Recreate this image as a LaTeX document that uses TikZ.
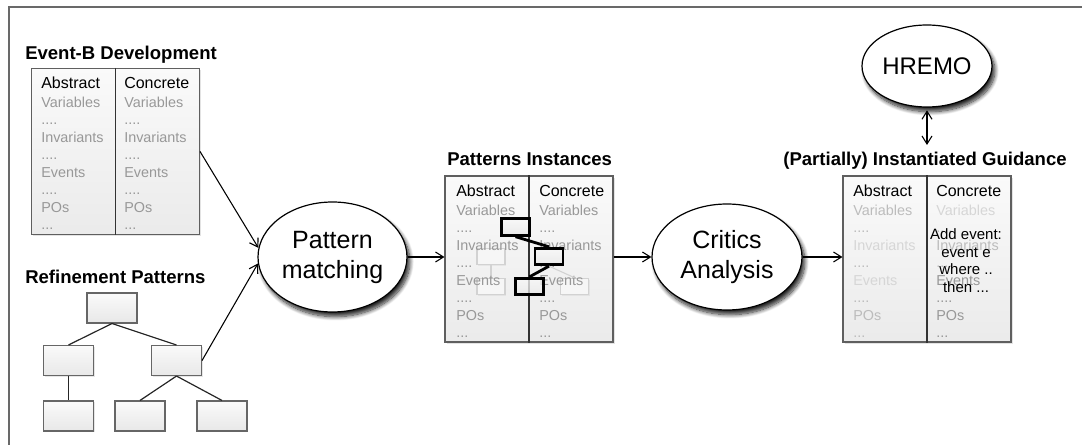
\documentclass[tikz,border=0pt]{standalone}
\usepackage{fontspec}
\setmainfont{Liberation Sans}
\usetikzlibrary{arrows.meta,shapes.geometric,shadows,shadows.blur}

\definecolor{itemgray}{RGB}{152,152,152}
\definecolor{faintgray}{RGB}{214,214,214}
\definecolor{midgray}{RGB}{188,188,188}
\definecolor{framegray}{RGB}{105,105,105}
\definecolor{boxedge}{RGB}{95,95,95}

\newcommand\fs[2]{\fontsize{#1}{#2}\selectfont}
\def\dd{....}
\def\ddd{...}

% one column of a development box: prefix, x, top y, header, items
\newcommand\devcolumn[5]{%
  \node[head] (#1h) at (#2,#3+21) {#4};
  \foreach \t/\c [count=\i from 0] in {#5} {
    \node[item,text=\c] (#1\i) at (#2,#3+39.5+17.5*\i) {\t};
  }%
}

\begin{document}
\begin{tikzpicture}[x=0.75pt,y=-0.75pt,
  title/.style={font=\fs{13.9pt}{16pt}\bfseries, inner sep=0, anchor=base west},
  head/.style={font=\fs{12pt}{14pt}, inner sep=0, anchor=base west},
  item/.style={font=\fs{10.8pt}{12pt}, inner sep=0, anchor=base west, text=itemgray},
  devbox/.style={draw=boxedge, line width=0.8pt, top color=gray!4, bottom color=gray!16,
    minimum width=126pt, minimum height=124.5pt, inner sep=0,
    drop shadow={shadow xshift=1.2pt, shadow yshift=-1.2pt, opacity=0.22}},
  divider/.style={draw=black!80, line width=0.8pt},
  treebox/.style={draw=gray!80!black, line width=0.8pt, top color=gray!4, bottom color=gray!18,
    minimum width=37.5pt, minimum height=22.5pt, inner sep=0,
    drop shadow={shadow xshift=1pt, shadow yshift=-1pt, opacity=0.2}},
  faded/.style={draw=gray!35, line width=0.8pt, fill=gray!7,
    minimum width=21pt, minimum height=12.4pt, inner sep=0,
    drop shadow={shadow xshift=1pt, shadow yshift=-1pt, opacity=0.1}},
  picked/.style={draw=black, line width=2.1pt, top color=gray!5, bottom color=gray!18,
    fill opacity=0.75, minimum width=21pt, minimum height=12.4pt, inner sep=0},
  pickline/.style={draw=black, line width=2.1pt},
  fadeline/.style={draw=gray!35, line width=0.8pt},
  oval/.style={ellipse, draw=black, line width=0.9pt, fill=white, inner sep=0, align=center,
    font=\fs{18.75pt}{22.5pt},
    blur shadow={shadow xshift=2.2pt, shadow yshift=-3.5pt, shadow blur radius=3pt,
      shadow blur steps=10, shadow opacity=85}},
  edge/.style={draw=black!85, line width=0.9pt},
  conn/.style={draw=black, line width=0.8pt, -{Straight Barb[length=6pt,width=7.5pt]}},
  biconn/.style={draw=black, line width=0.8pt,
    {Straight Barb[length=6pt,width=7.5pt]}-{Straight Barb[length=6pt,width=7.5pt]}}
]
\useasboundingbox (0,0) rectangle (1082,445);

% outer frame
\draw[framegray, line width=1.2pt] (9,445) -- (9,7) -- (1082,7);

% ---------------- Event-B development ----------------
\node[title] (tevb) at (25,60) {Event-B Development};
\node[devbox] (evb) at (115.5,151.5) {};
\draw[divider] (evb.north) -- (evb.south);
\devcolumn{ea}{41}{68}{Abstract}{Variables/itemgray,\dd/itemgray,Invariants/itemgray,\dd/itemgray,Events/itemgray,\dd/itemgray,POs/itemgray,\ddd/itemgray}
\devcolumn{ec}{124}{68}{Concrete}{Variables/itemgray,\dd/itemgray,Invariants/itemgray,\dd/itemgray,Events/itemgray,\dd/itemgray,POs/itemgray,\ddd/itemgray}

% ---------------- refinement pattern tree ----------------
\node[title] (tref) at (25,284) {Refinement Patterns};
\node[treebox] (t1) at (112,308) {};
\node[treebox] (t2) at (68.5,360.5) {};
\node[treebox] (t3) at (176.5,360.5) {};
\node[treebox] (t4) at (68.5,416) {};
\node[treebox] (t5) at (140,416) {};
\node[treebox] (t6) at (222,416) {};
\draw[edge] (t1.south) -- (t2.north);
\draw[edge] (t1.south) -- (t3.north);
\draw[edge] (t2.south) -- (t4.north);
\draw[edge] (t3.south) -- (t5.north);
\draw[edge] (t3.south) -- (t6.north);

% ---------------- pattern matching ----------------
\node[oval, minimum width=111.75pt, minimum height=82.5pt] (pm) at (332.5,257) {Pattern\\matching};
\draw[conn] (evb.east) -- (pm.173);
\draw[conn] (t3.east) -- (pm.185);

% ---------------- pattern instances ----------------
\node[title] (tpi) at (447,166) {Patterns Instances};
\node[devbox] (pi) at (529,259) {};
\node[faded] (fa) at (491,256.5) {};
\node[faded] (fb) at (491,286.5) {};
\node[faded] (fc) at (574.5,286.5) {};
\draw[fadeline] (fa.south) -- (fb.north);
\draw[divider] (pi.north) -- (pi.south);
\devcolumn{pa}{456}{176}{Abstract}{Variables/itemgray,\dd/itemgray,Invariants/itemgray,\dd/itemgray,Events/itemgray,\dd/itemgray,POs/itemgray,\ddd/itemgray}
\devcolumn{pc}{539}{176}{Concrete}{Variables/itemgray,\dd/itemgray,Invariants/itemgray,\dd/itemgray,Events/itemgray,\dd/itemgray,POs/itemgray,\ddd/itemgray}
\node[picked] (b1) at (515.5,227) {};
\node[picked] (b2) at (549,256.5) {};
\node[picked] (b3) at (529.5,286.5) {};
\draw[fadeline] (b2.south) -- (fc.north);
\draw[pickline] (b1.south) -- (b2.north);
\draw[pickline] (b2.south) -- (b3.north);
\draw[conn] (pm.east) -- (pm.east -| pi.west);

% ---------------- critics analysis ----------------
\node[oval, minimum width=112.5pt, minimum height=79.5pt] (ca) at (727,257) {Critics\\Analysis};
\draw[conn] (pi.east |- ca.west) -- (ca.west);

% ---------------- instantiated guidance ----------------
\node[title, anchor=base] (tig) at (925,166) {(Partially) Instantiated Guidance};
\node[devbox] (ig) at (927,259) {};
\draw[divider] (ig.north) -- (ig.south);
\devcolumn{ga}{853}{176}{Abstract}{Variables/midgray,\dd/midgray,Invariants/faintgray,\dd/midgray,Events/faintgray,\dd/midgray,POs/midgray,\ddd/midgray}
\devcolumn{gc}{936}{176}{Concrete}{Variables/faintgray,\dd/midgray,Invariants/midgray,\dd/midgray,Events/itemgray,\dd/itemgray,POs/itemgray,\ddd/itemgray}
\node[font=\fs{11.25pt}{13.1pt}, align=center, inner sep=0] (add) at (966,260.5)
  {Add event:\\event e\\where ..\\then ...};
\draw[conn] (ca.east) -- (ca.east -| ig.west);

% ---------------- HREMO ----------------
\node[oval, font=\fs{18pt}{21pt}, minimum width=97.5pt, minimum height=61.5pt] (hr) at (927,66) {HREMO};
\draw[biconn, shorten <=2pt, shorten >=5.5pt] (hr.south) -- (tig.north -| hr.south);
\end{tikzpicture}
\end{document}
